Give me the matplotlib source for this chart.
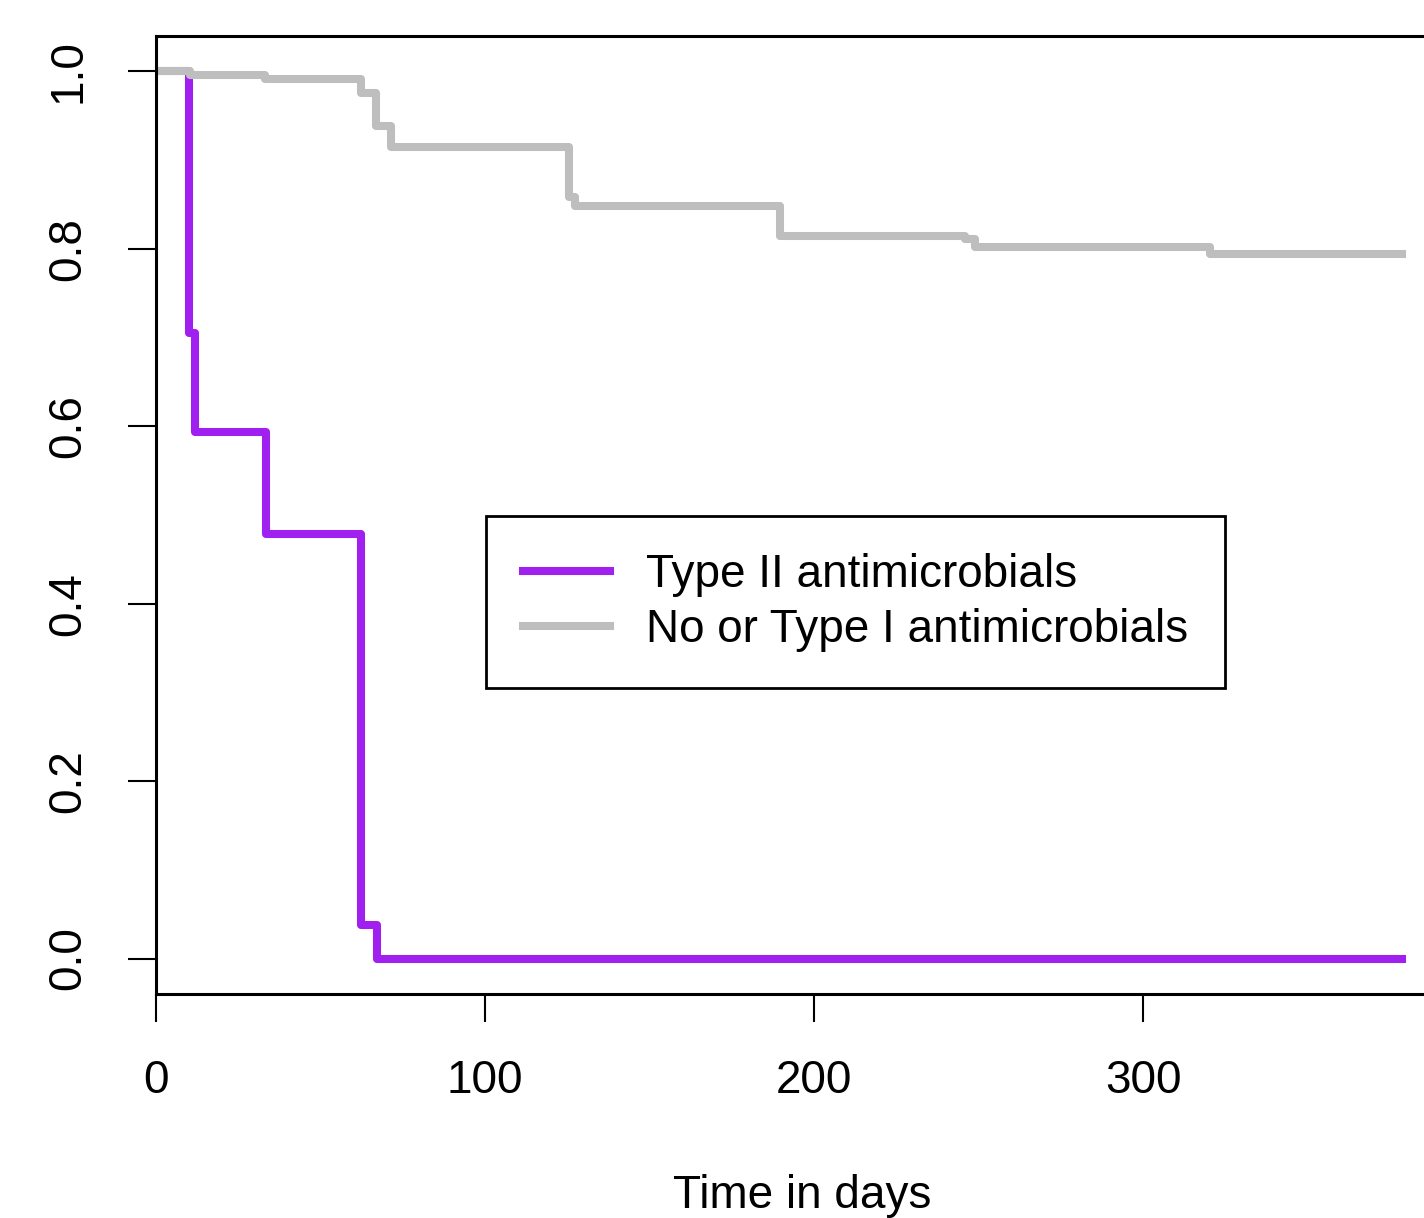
import matplotlib
matplotlib.use('Agg')
import matplotlib.pyplot as plt

# Kaplan-Meier steps (time in days, survival after the step)
type2_times = [0, 10.1, 12.0, 33.4, 62.4, 67.3, 378.7]
type2_surv = [1.0, 0.705, 0.594, 0.479, 0.038, 0.0, 0.0]

other_times = [0, 10.3, 33.1, 62.2, 66.8, 71.5, 125.5, 127.4, 189.7, 245.8, 249.0, 320.4, 378.7]
other_surv = [1.0, 0.996, 0.992, 0.9755, 0.939, 0.915, 0.858, 0.848, 0.815, 0.8115, 0.8017, 0.7945, 0.7945]

labels = ['Type II antimicrobials', 'No or Type I antimicrobials']
colors = ['#A020F0', '#BEBEBE']
xticks = [0, 100, 200, 300]
yticks = [0.0, 0.2, 0.4, 0.6, 0.8, 1.0]

plt.rcParams['font.family'] = ['Liberation Sans', 'DejaVu Sans']
FS = 33

W, H = 1424, 1218
fig = plt.figure(figsize=(W / 100, H / 100), dpi=100)
ax = fig.add_axes([156 / W, (H - 994) / H, (1448 - 156) / W, (994 - 36) / H])

ln1, = ax.plot(type2_times, type2_surv, drawstyle='steps-post', color=colors[0], lw=5.8)
ln2, = ax.plot(other_times, other_surv, drawstyle='steps-post', color=colors[1], lw=5.8)

ax.set_xlim(0, 392.7)
ax.set_ylim(-0.04, 1.04)
ax.set_xticks(xticks)
ax.set_xticklabels([str(t) for t in xticks])
ax.set_yticks(yticks)
ax.set_yticklabels([f'{t:.1f}' for t in yticks], rotation=90, va='center')
ax.tick_params(length=20, width=1.5, pad=27, labelsize=FS, colors='black')
for s in ax.spines.values():
    s.set_linewidth(2.2)
    s.set_color('black')

ax.set_xlabel('Time in days', fontsize=FS)
ax.xaxis.set_label_coords(0.5, -0.188)

leg = ax.legend([ln1, ln2], labels, loc='upper left',
                bbox_to_anchor=((486 - 156) / 1292, (994 - 516) / 958),
                borderaxespad=0, fontsize=FS, frameon=True, fancybox=False,
                edgecolor='black', framealpha=1, handlelength=1.9,
                handletextpad=0.8, borderpad=0.8, labelspacing=0.24)
leg.get_frame().set_linewidth(2.0)

fig.savefig('out.png', dpi=100)
